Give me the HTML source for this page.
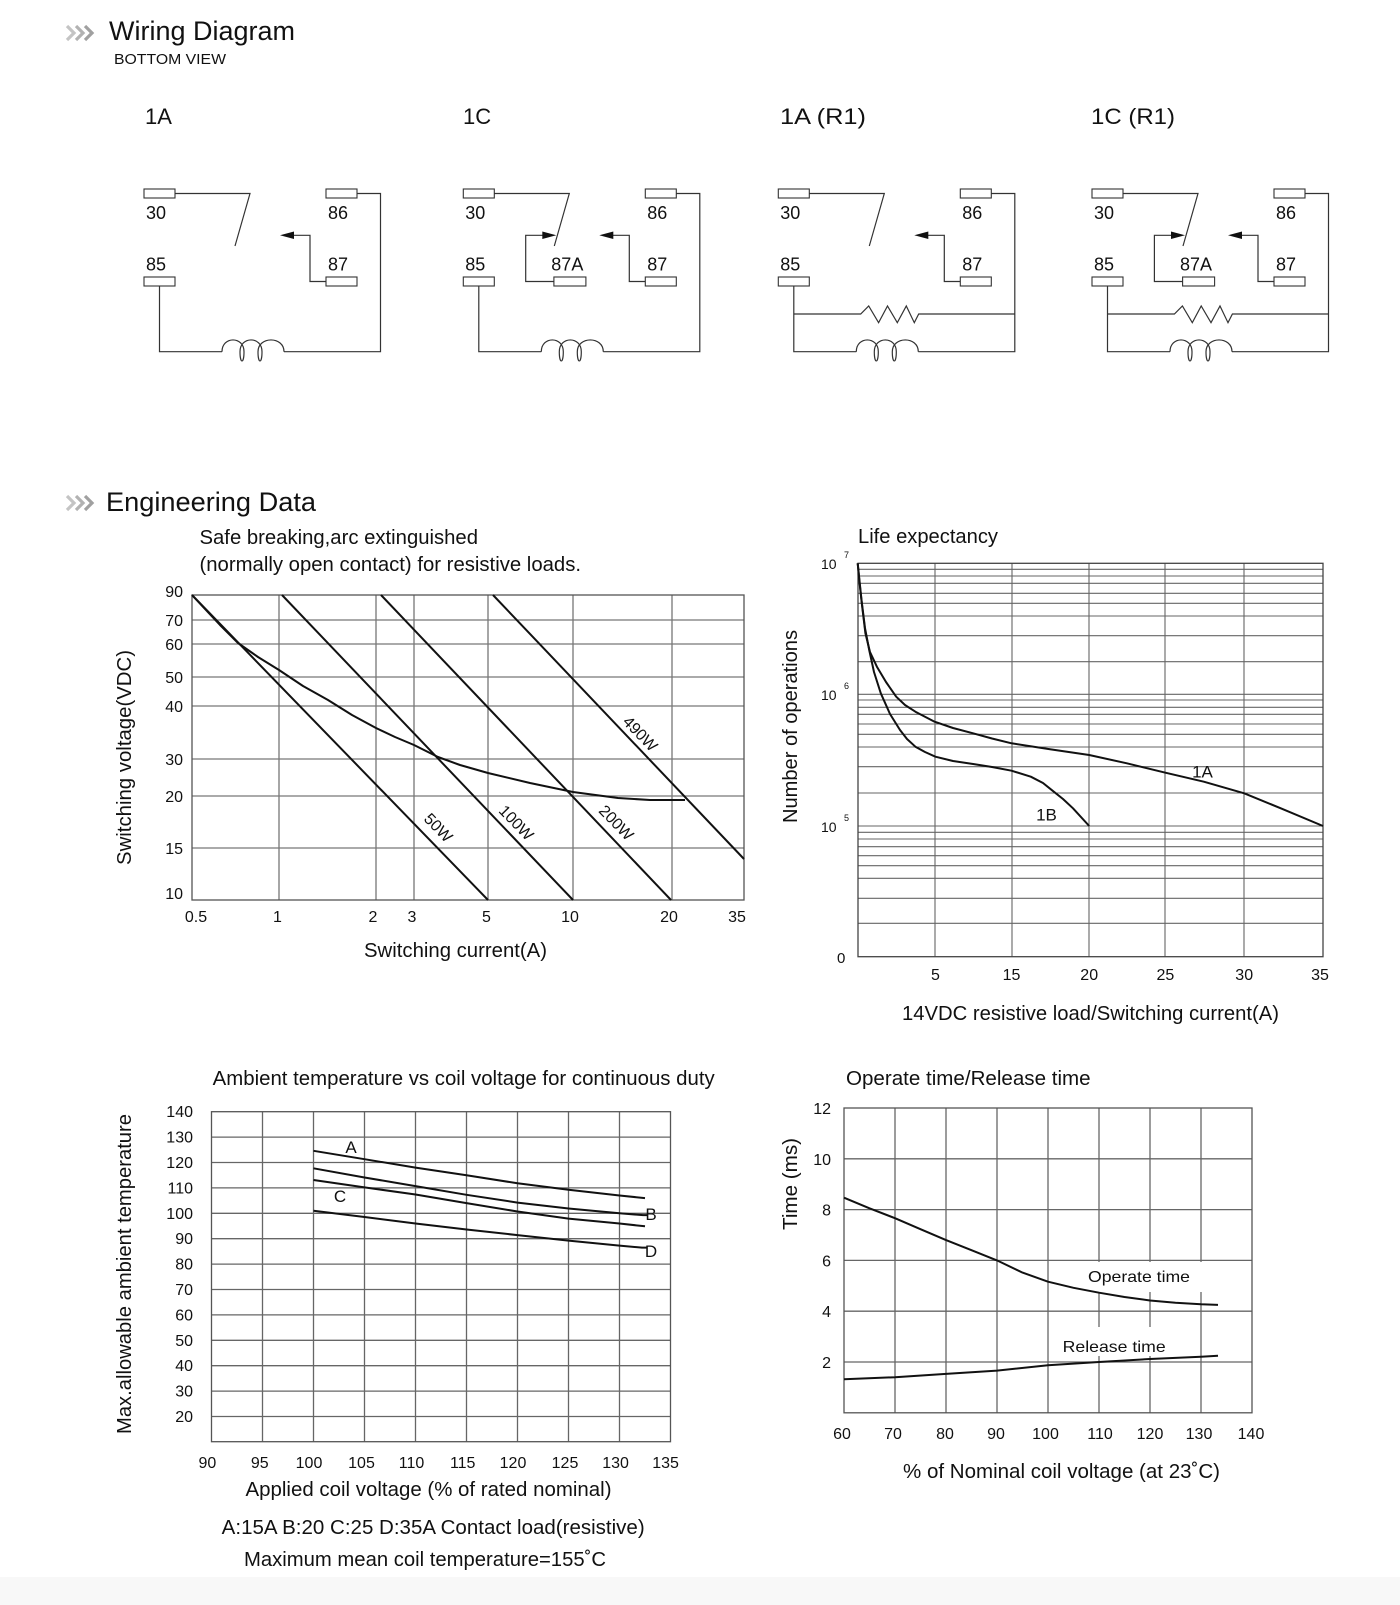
<!DOCTYPE html>
<html><head><meta charset="utf-8"><style>
html,body{margin:0;padding:0;background:#fff;}
svg{display:block;}
text{font-family:"Liberation Sans",Arial,sans-serif;fill:#111;}
</style></head><body>
<svg width="1400" height="1605" viewBox="0 0 1400 1605" xmlns="http://www.w3.org/2000/svg">
<rect x="0" y="0" width="1400" height="1605" fill="#fff"/>
<rect x="0" y="1577" width="1400" height="28" fill="#f8f8f8"/>

<!-- Header: Wiring Diagram -->
<g fill="none" stroke-width="3.2" stroke-linejoin="miter">
<polyline points="67,26 74,33 67,40" stroke="#c4c4c4"/>
<polyline points="76,26 83,33 76,40" stroke="#b2b2b2"/>
<polyline points="85,26 92,33 85,40" stroke="#a0a0a0"/>
</g>
<text x="109" y="40" font-size="27" textLength="186" lengthAdjust="spacingAndGlyphs">Wiring Diagram</text>
<text x="114" y="64" font-size="15" textLength="112" lengthAdjust="spacingAndGlyphs">BOTTOM VIEW</text>

<!-- diagram titles -->
<text x="145" y="124" font-size="22">1A</text>
<text x="463" y="124" font-size="22">1C</text>
<text x="780" y="124" font-size="22" textLength="86" lengthAdjust="spacingAndGlyphs">1A (R1)</text>
<text x="1091" y="124" font-size="22" textLength="84" lengthAdjust="spacingAndGlyphs">1C (R1)</text>

<defs>
<g id="base">
 <g fill="#fff" stroke="#333" stroke-width="1.1">
  <rect x="144" y="189" width="31" height="9"/>
  <rect x="326" y="189" width="31" height="9"/>
  <rect x="144" y="277" width="31" height="9"/>
  <rect x="326" y="277" width="31" height="9"/>
 </g>
 <g fill="none" stroke="#333" stroke-width="1.2">
  <polyline points="175,193.5 250,193.5 235,246"/>
  <polyline points="357,193.5 380.5,193.5 380.5,351.7 284,351.7"/>
  <polyline points="326,281.5 310,281.5 310,235.3 292,235.3"/>
  <polyline points="159.5,286 159.5,351.7 222,351.7"/>
  <path d="M222,351.7 C222,336 244,336 244,351.7 C244,364 240,364 240,351.7 C240,336 262,336 262,351.7 C262,364 258,364 258,351.7 C258,336 284,336 284,351.7"/>
 </g>
 <polygon points="280,235.3 294,231.5 294,239" fill="#111"/>
 <text x="146" y="219" font-size="18">30</text>
 <text x="328" y="219" font-size="18">86</text>
 <text x="146" y="270.5" font-size="18">85</text>
 <text x="328" y="270.5" font-size="18">87</text>
</g>
<g id="nc">
 <rect x="234.6" y="277" width="32" height="9" fill="#fff" stroke="#333" stroke-width="1.1"/>
 <polyline points="234.6,281.5 206.4,281.5 206.4,235.3 225,235.3" fill="none" stroke="#333" stroke-width="1.2"/>
 <polygon points="237,235.3 223,231.5 223,239" fill="#111"/>
 <text x="232" y="270.5" font-size="18">87A</text>
</g>
<g id="res">
 <polyline points="159.5,314 226.4,314 234.4,306 244.3,322.7 253.2,306 263,322.7 272,306 280,322.7 284.4,314 380.5,314" fill="none" stroke="#333" stroke-width="1.2"/>
</g>
</defs>

<use href="#base"/>
<g transform="translate(319.3,0)"><use href="#base"/><use href="#nc"/></g>
<g transform="translate(634.3,0)"><use href="#base"/><use href="#res"/></g>
<g transform="translate(948,0)"><use href="#base"/><use href="#nc"/><use href="#res"/></g>

<!-- Header: Engineering Data -->
<g fill="none" stroke-width="3.2">
<polyline points="67,496 74,503 67,510" stroke="#c4c4c4"/>
<polyline points="76,496 83,503 76,510" stroke="#b2b2b2"/>
<polyline points="85,496 92,503 85,510" stroke="#a0a0a0"/>
</g>
<text x="106" y="511" font-size="27" textLength="210" lengthAdjust="spacingAndGlyphs">Engineering Data</text>

<!-- ============ Chart 1: Safe breaking ============ -->
<text x="199.5" y="544" font-size="20" textLength="278.5" lengthAdjust="spacingAndGlyphs">Safe breaking,arc extinguished</text>
<text x="199.5" y="571" font-size="20" textLength="381.5" lengthAdjust="spacingAndGlyphs">(normally open contact) for resistive loads.</text>
<g stroke="#777" stroke-width="1.3" fill="none">
 <line x1="279" y1="595" x2="279" y2="900"/>
 <line x1="376" y1="595" x2="376" y2="900"/>
 <line x1="414" y1="595" x2="414" y2="900"/>
 <line x1="488" y1="595" x2="488" y2="900"/>
 <line x1="573" y1="595" x2="573" y2="900"/>
 <line x1="672" y1="595" x2="672" y2="900"/>
 <line x1="192" y1="620" x2="744" y2="620"/>
 <line x1="192" y1="644" x2="744" y2="644"/>
 <line x1="192" y1="677" x2="744" y2="677"/>
 <line x1="192" y1="706" x2="744" y2="706"/>
 <line x1="192" y1="759" x2="744" y2="759"/>
 <line x1="192" y1="796" x2="744" y2="796"/>
 <line x1="192" y1="848" x2="744" y2="848"/>
 <rect x="192" y="595" width="552" height="305" stroke="#555"/>
</g>
<g stroke="#111" stroke-width="2" fill="none" stroke-linejoin="round">
 <line x1="192" y1="595" x2="488" y2="900"/>
 <line x1="282" y1="595" x2="573" y2="900"/>
 <line x1="381" y1="595" x2="671" y2="900"/>
 <line x1="493" y1="595" x2="744" y2="859"/>
 <polyline points="192,595 205,609 220,625 238,643 258,657 279,670 303,686 328,700 352,715 376,728 395,737 414,745 438,757 460,765 488,773 530,783 573,792 618,798 650,800 685,800"/>
</g>
<g font-size="16" text-anchor="middle">
 <text transform="translate(438,828) rotate(46)" dy="5">50W</text>
 <text transform="translate(516,823) rotate(46)" dy="5">100W</text>
 <text transform="translate(616,823) rotate(46)" dy="5">200W</text>
 <text transform="translate(640,734) rotate(46)" dy="5">490W</text>
</g>
<g font-size="16" text-anchor="end">
 <text x="183" y="597">90</text>
 <text x="183" y="626">70</text>
 <text x="183" y="650">60</text>
 <text x="183" y="683">50</text>
 <text x="183" y="712">40</text>
 <text x="183" y="765">30</text>
 <text x="183" y="802">20</text>
 <text x="183" y="854">15</text>
 <text x="183" y="899">10</text>
</g>
<g font-size="16" text-anchor="middle">
 <text x="196" y="922">0.5</text>
 <text x="277.5" y="922">1</text>
 <text x="373" y="922">2</text>
 <text x="412" y="922">3</text>
 <text x="486.5" y="922">5</text>
 <text x="570" y="922">10</text>
 <text x="669" y="922">20</text>
 <text x="737" y="922">35</text>
</g>
<text transform="translate(131,757.5) rotate(-90)" text-anchor="middle" font-size="20" textLength="215" lengthAdjust="spacingAndGlyphs">Switching voltage(VDC)</text>
<text x="364" y="957" font-size="20" textLength="183" lengthAdjust="spacingAndGlyphs">Switching current(A)</text>

<!-- ============ Chart 2: Life expectancy ============ -->
<text x="858" y="543" font-size="20" textLength="140" lengthAdjust="spacingAndGlyphs">Life expectancy</text>
<g stroke="#666" stroke-width="1.1" fill="none">
 <line x1="858" y1="569.3" x2="1323" y2="569.3"/>
 <line x1="858" y1="576" x2="1323" y2="576"/>
 <line x1="858" y1="583.3" x2="1323" y2="583.3"/>
 <line x1="858" y1="593.3" x2="1323" y2="593.3"/>
 <line x1="858" y1="603.3" x2="1323" y2="603.3"/>
 <line x1="858" y1="616" x2="1323" y2="616"/>
 <line x1="858" y1="635.7" x2="1323" y2="635.7"/>
 <line x1="858" y1="661.7" x2="1323" y2="661.7"/>
 <line x1="858" y1="694.3" x2="1323" y2="694.3"/>
 <line x1="858" y1="700" x2="1323" y2="700"/>
 <line x1="858" y1="707.3" x2="1323" y2="707.3"/>
 <line x1="858" y1="714.3" x2="1323" y2="714.3"/>
 <line x1="858" y1="724" x2="1323" y2="724"/>
 <line x1="858" y1="734.3" x2="1323" y2="734.3"/>
 <line x1="858" y1="747" x2="1323" y2="747"/>
 <line x1="858" y1="766.7" x2="1323" y2="766.7"/>
 <line x1="858" y1="793" x2="1323" y2="793"/>
 <line x1="858" y1="826" x2="1323" y2="826"/>
 <line x1="858" y1="832.3" x2="1323" y2="832.3"/>
 <line x1="858" y1="839" x2="1323" y2="839"/>
 <line x1="858" y1="846.7" x2="1323" y2="846.7"/>
 <line x1="858" y1="855.7" x2="1323" y2="855.7"/>
 <line x1="858" y1="865.7" x2="1323" y2="865.7"/>
 <line x1="858" y1="878.3" x2="1323" y2="878.3"/>
 <line x1="858" y1="898.3" x2="1323" y2="898.3"/>
 <line x1="858" y1="923.3" x2="1323" y2="923.3"/>
 <line x1="935" y1="563.3" x2="935" y2="956.7"/>
 <line x1="1012" y1="563.3" x2="1012" y2="956.7"/>
 <line x1="1089" y1="563.3" x2="1089" y2="956.7"/>
 <line x1="1165" y1="563.3" x2="1165" y2="956.7"/>
 <line x1="1244" y1="563.3" x2="1244" y2="956.7"/>
 <rect x="858" y="563.3" width="465" height="393.4" stroke="#444" stroke-width="1.3"/>
</g>
<g stroke="#111" stroke-width="2" fill="none" stroke-linejoin="round">
 <polyline points="857.7,563.3 859.6,583.3 862,605 865.4,633.3 870,652 876.9,666.7 886,682 896.2,696.7 905,705 915.4,711.7 934.6,721.7 953,728 973.1,733.3 992,738.5 1011.5,743.3 1050,749.3 1089.2,755 1126.9,763.3 1165.4,772.7 1203.8,781.7 1244.2,793.3 1280.8,808.3 1323,826"/>
 <polyline points="857.7,563.3 861.5,600 865,628 869.2,650 874,672 880.8,693.3 890,714 900,730 907,739 915.4,746.7 925,752 935.4,756.7 953,761 973.1,764 992,767 1011.5,770.7 1030.8,776.7 1043,783 1053.8,791.7 1063,799 1073,808.3 1089.2,826"/>
</g>
<text x="1202.5" y="777.5" font-size="17" text-anchor="middle">1A</text>
<text x="1046.5" y="820.5" font-size="17" text-anchor="middle">1B</text>
<g font-size="14">
 <text x="821" y="569">10</text><text x="844" y="558" font-size="9">7</text>
 <text x="821" y="700">10</text><text x="844" y="689" font-size="9">6</text>
 <text x="821" y="832">10</text><text x="844" y="821" font-size="9">5</text>
 <text x="837" y="963" font-size="15">0</text>
</g>
<g font-size="16" text-anchor="middle">
 <text x="935.4" y="980">5</text>
 <text x="1011.5" y="980">15</text>
 <text x="1089.2" y="980">20</text>
 <text x="1165.4" y="980">25</text>
 <text x="1244.2" y="980">30</text>
 <text x="1320" y="980">35</text>
</g>
<text transform="translate(797,726.5) rotate(-90)" text-anchor="middle" font-size="20" textLength="193" lengthAdjust="spacingAndGlyphs">Number of operations</text>
<text x="902" y="1020" font-size="20" textLength="377" lengthAdjust="spacingAndGlyphs">14VDC resistive load/Switching current(A)</text>

<!-- ============ Chart 3: Ambient temperature ============ -->
<text x="212.7" y="1085" font-size="20" textLength="502" lengthAdjust="spacingAndGlyphs">Ambient temperature vs coil voltage for continuous duty</text>
<g stroke="#666" stroke-width="1.3" fill="none">
 <line x1="262.5" y1="1111.7" x2="262.5" y2="1441.7"/>
 <line x1="313.5" y1="1111.7" x2="313.5" y2="1441.7"/>
 <line x1="364.5" y1="1111.7" x2="364.5" y2="1441.7"/>
 <line x1="415.5" y1="1111.7" x2="415.5" y2="1441.7"/>
 <line x1="466.5" y1="1111.7" x2="466.5" y2="1441.7"/>
 <line x1="517.5" y1="1111.7" x2="517.5" y2="1441.7"/>
 <line x1="568.5" y1="1111.7" x2="568.5" y2="1441.7"/>
 <line x1="619.5" y1="1111.7" x2="619.5" y2="1441.7"/>
 <line x1="211.5" y1="1137.1" x2="670.5" y2="1137.1"/>
 <line x1="211.5" y1="1162.5" x2="670.5" y2="1162.5"/>
 <line x1="211.5" y1="1187.9" x2="670.5" y2="1187.9"/>
 <line x1="211.5" y1="1213.3" x2="670.5" y2="1213.3"/>
 <line x1="211.5" y1="1238.7" x2="670.5" y2="1238.7"/>
 <line x1="211.5" y1="1264.1" x2="670.5" y2="1264.1"/>
 <line x1="211.5" y1="1289.5" x2="670.5" y2="1289.5"/>
 <line x1="211.5" y1="1314.9" x2="670.5" y2="1314.9"/>
 <line x1="211.5" y1="1340.3" x2="670.5" y2="1340.3"/>
 <line x1="211.5" y1="1365.7" x2="670.5" y2="1365.7"/>
 <line x1="211.5" y1="1391.1" x2="670.5" y2="1391.1"/>
 <line x1="211.5" y1="1416.5" x2="670.5" y2="1416.5"/>
 <rect x="211.5" y="1111.7" width="459" height="330" stroke="#555"/>
</g>
<g stroke="#111" stroke-width="2" fill="none" stroke-linejoin="round">
 <polyline points="313.5,1150.8 364.5,1159.2 415.5,1167.6 466.5,1175.2 517.5,1183.3 568.5,1189.7 619.5,1195.5 645,1198.1"/>
 <polyline points="313.5,1168.3 364.5,1177.5 415.5,1186.1 466.5,1194.8 517.5,1202.6 568.5,1208.5 619.5,1213.3 643,1215.1 647,1215.1"/>
 <polyline points="313.5,1180 364.5,1187.4 415.5,1194.5 466.5,1203.1 517.5,1211.5 568.5,1218.6 619.5,1223.5 645,1226.3"/>
 <polyline points="313.5,1210.8 364.5,1217 415.5,1223.5 466.5,1229.5 517.5,1235.1 568.5,1240.6 619.5,1245.6 642,1247.6 647,1247.6"/>
</g>
<g font-size="17" text-anchor="middle">
 <text x="351" y="1153">A</text>
 <text x="340" y="1202">C</text>
 <text x="651" y="1220">B</text>
 <text x="651" y="1257">D</text>
</g>
<g font-size="16" text-anchor="end">
 <text x="193" y="1117">140</text>
 <text x="193" y="1142.5">130</text>
 <text x="193" y="1168">120</text>
 <text x="193" y="1193.5">110</text>
 <text x="193" y="1219">100</text>
 <text x="193" y="1244">90</text>
 <text x="193" y="1269.5">80</text>
 <text x="193" y="1295">70</text>
 <text x="193" y="1320.5">60</text>
 <text x="193" y="1346">50</text>
 <text x="193" y="1371">40</text>
 <text x="193" y="1396.5">30</text>
 <text x="193" y="1422">20</text>
</g>
<g font-size="16" text-anchor="middle">
 <text x="207.4" y="1468">90</text>
 <text x="259.8" y="1468">95</text>
 <text x="309" y="1468">100</text>
 <text x="361.5" y="1468">105</text>
 <text x="411.5" y="1468">110</text>
 <text x="462.7" y="1468">115</text>
 <text x="513" y="1468">120</text>
 <text x="565" y="1468">125</text>
 <text x="615.6" y="1468">130</text>
 <text x="665.6" y="1468">135</text>
</g>
<text transform="translate(131,1274) rotate(-90)" text-anchor="middle" font-size="20" textLength="320" lengthAdjust="spacingAndGlyphs">Max.allowable ambient temperature</text>
<text x="245.5" y="1496" font-size="20" textLength="366" lengthAdjust="spacingAndGlyphs">Applied coil voltage (% of rated nominal)</text>
<text x="221.7" y="1534" font-size="20" textLength="423" lengthAdjust="spacingAndGlyphs">A:15A B:20 C:25 D:35A Contact load(resistive)</text>
<text x="244" y="1566" font-size="20" textLength="362" lengthAdjust="spacingAndGlyphs">Maximum mean coil temperature=155˚C</text>

<!-- ============ Chart 4: Operate time ============ -->
<text x="846" y="1085" font-size="20" textLength="244.6" lengthAdjust="spacingAndGlyphs">Operate time/Release time</text>
<g stroke="#666" stroke-width="1.3" fill="none">
 <line x1="895" y1="1108" x2="895" y2="1412.8"/>
 <line x1="946" y1="1108" x2="946" y2="1412.8"/>
 <line x1="997" y1="1108" x2="997" y2="1412.8"/>
 <line x1="1048" y1="1108" x2="1048" y2="1412.8"/>
 <line x1="1099" y1="1108" x2="1099" y2="1412.8"/>
 <line x1="1150" y1="1108" x2="1150" y2="1412.8"/>
 <line x1="1201" y1="1108" x2="1201" y2="1412.8"/>
 <line x1="844" y1="1158.8" x2="1252" y2="1158.8"/>
 <line x1="844" y1="1209.6" x2="1252" y2="1209.6"/>
 <line x1="844" y1="1260.4" x2="1252" y2="1260.4"/>
 <line x1="844" y1="1311.2" x2="1252" y2="1311.2"/>
 <line x1="844" y1="1362" x2="1252" y2="1362"/>
 <rect x="844" y="1108" width="408" height="304.8" stroke="#555"/>
</g>
<rect x="1084" y="1262" width="122" height="30" fill="#fff"/>
<rect x="1058" y="1327" width="132" height="29" fill="#fff"/>
<g stroke="#111" stroke-width="2" fill="none" stroke-linejoin="round">
 <polyline points="844,1197.7 869.5,1208.3 895,1218.2 920.5,1229.2 946,1240.1 971.5,1250.2 997,1260.4 1022.5,1272.6 1048,1281.7 1073.5,1287.8 1099,1292.7 1124.5,1297 1150,1300.5 1175.5,1302.8 1201,1304.3 1218,1304.9"/>
 <polyline points="844,1379.3 895,1377.2 946,1373.9 997,1370.6 1048,1365.3 1099,1362 1150,1359 1201,1356.7 1218,1355.7"/>
</g>
<text x="1088" y="1282" font-size="16" textLength="102" lengthAdjust="spacingAndGlyphs">Operate  time</text>
<text x="1062.7" y="1352" font-size="16" textLength="103" lengthAdjust="spacingAndGlyphs">Release  time</text>
<g font-size="16" text-anchor="end">
 <text x="831" y="1114">12</text>
 <text x="831" y="1164.8">10</text>
 <text x="831" y="1215.6">8</text>
 <text x="831" y="1266.4">6</text>
 <text x="831" y="1317.2">4</text>
 <text x="831" y="1368">2</text>
</g>
<g font-size="16" text-anchor="middle">
 <text x="842" y="1439">60</text>
 <text x="893" y="1439">70</text>
 <text x="945" y="1439">80</text>
 <text x="996" y="1439">90</text>
 <text x="1045.5" y="1439">100</text>
 <text x="1100" y="1439">110</text>
 <text x="1150" y="1439">120</text>
 <text x="1199" y="1439">130</text>
 <text x="1251" y="1439">140</text>
</g>
<text transform="translate(797,1184) rotate(-90)" text-anchor="middle" font-size="20" textLength="92" lengthAdjust="spacingAndGlyphs">Time (ms)</text>
<text x="903" y="1478" font-size="20" textLength="317" lengthAdjust="spacingAndGlyphs">% of Nominal coil voltage (at 23˚C)</text>
</svg>
</body></html>
